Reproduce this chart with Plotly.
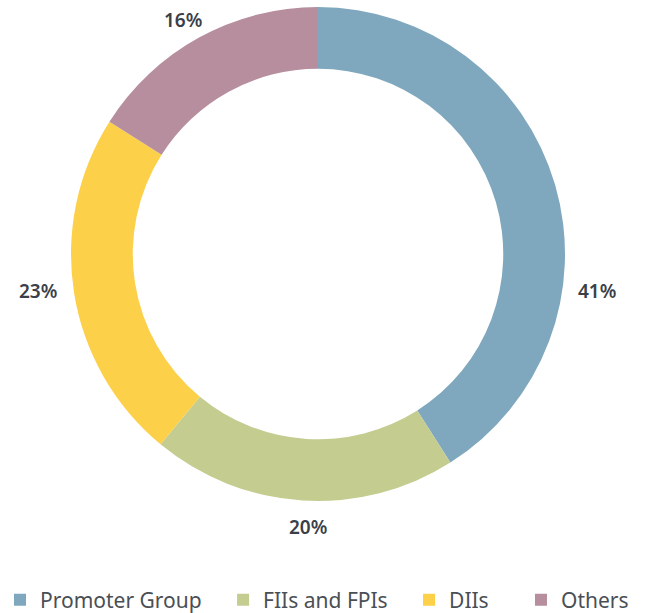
import plotly.graph_objects as go

labels = ["Promoter Group", "FIIs and FPIs", "DIIs", "Others"]
values = [41, 20, 23, 16]
colors = ["#7FA8BE", "#C4CC90", "#FDD04A", "#B68E9E"]
# label positions (pixels from top-left) for the percentage texts
label_pos = [(597, 291), (308, 527), (38, 291), (183, 20)]

W, H = 646, 613
pads = [3, 3, 5, 0]  # trailing non-breaking spaces for legend spacing
legend_names = [l + "\u00a0" * p for l, p in zip(labels, pads)]

fig = go.Figure()
fig.add_trace(go.Pie(
    labels=legend_names, values=values, hole=0.75, sort=False,
    direction="clockwise", rotation=0,
    marker=dict(colors=colors, line=dict(width=0)),
    textinfo="none", hoverinfo="label+percent",
    domain=dict(x=[71 / W, 565 / W], y=[1 - 501 / H, 1 - 7 / H]),
))

total = sum(values)
for v, (px, py) in zip(values, label_pos):
    fig.add_annotation(
        x=px / W, y=1 - py / H, xref="paper", yref="paper",
        text=f"{round(100 * v / total)}%", showarrow=False,
        font=dict(family="Noto Sans", size=19, color="#3B4048", weight=600),
        xanchor="center", yanchor="middle",
    )

fig.update_layout(
    width=W, height=H,
    margin=dict(l=0, r=0, t=0, b=0, autoexpand=False),
    paper_bgcolor="white", plot_bgcolor="white",
    showlegend=True,
    legend=dict(
        orientation="h", x=0, xanchor="left", y=1 - 600 / H, yanchor="middle",
        font=dict(family="Noto Sans", size=21, color="#4A4F55"),
        itemwidth=30, traceorder="normal", bgcolor="rgba(0,0,0,0)",
    ),
)

fig.write_html("out.html", config={"displayModeBar": False},
               post_script="document.body.style.margin='0';")
